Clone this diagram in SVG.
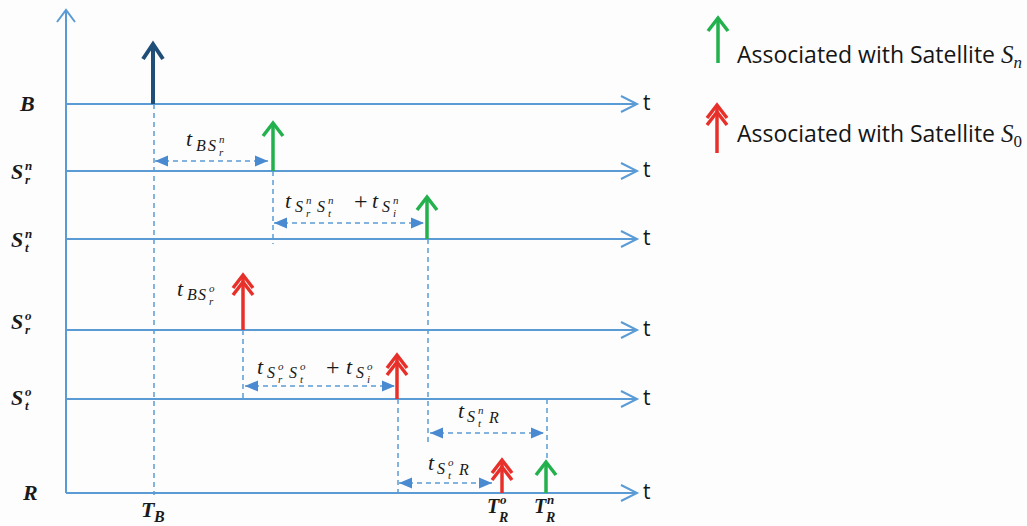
<svg xmlns="http://www.w3.org/2000/svg" width="1027" height="526" viewBox="0 0 1027 526">
<style>
.ax{stroke:#5b9bd5;stroke-width:2;fill:none}
.hl{stroke:#5b9bd5;stroke-width:2;fill:none;marker-end:url(#open)}
.dv{stroke:#5b9bd5;stroke-width:1.5;stroke-dasharray:5 4;fill:none}
.da{stroke:#5b9bd5;stroke-width:1.5;stroke-dasharray:5 4;fill:none;marker-start:url(#tri);marker-end:url(#tri)}
.g{stroke:#22b14c;stroke-width:3.5;fill:none;marker-end:url(#gh)}
.r{stroke:#e8302a;stroke-width:3.5;fill:none;marker-end:url(#rh)}
.b{stroke:#1f4e79;stroke-width:4;fill:none;marker-end:url(#bh)}
.m{font-family:"Liberation Serif",serif;font-style:italic;fill:#1a1a1a}
.lb{font-family:"Liberation Serif",serif;font-style:italic;font-weight:bold;fill:#1a1a1a}
.pl{font-family:"Liberation Serif",serif;font-style:normal;fill:#1a1a1a}
.tt{font-family:"Open Sans",sans-serif;font-size:23px;fill:#151515}
.tl{font-family:"Open Sans",sans-serif;font-size:21px;fill:#151515}
.big{font-size:22px}.mid{font-size:16px}.sm{font-size:11px}.lsm{font-size:13px}
</style>
<defs>
<marker id="open" markerUnits="userSpaceOnUse" orient="auto" refX="0" refY="0" markerWidth="20" markerHeight="20" overflow="visible"><path d="M-16,-8 L0,0 L-16,8" fill="none" stroke="#5b9bd5" stroke-width="2"/></marker>
<marker id="tri" markerUnits="userSpaceOnUse" orient="auto-start-reverse" refX="0" refY="0" markerWidth="20" markerHeight="20" overflow="visible"><path d="M-13,-5.5 L0,0 L-13,5.5 z" fill="#4a8ad0"/></marker>
<marker id="gh" markerUnits="userSpaceOnUse" orient="auto" refX="0" refY="0" markerWidth="30" markerHeight="30" overflow="visible"><path d="M-13,-10 L0,0 L-13,10" fill="none" stroke="#22b14c" stroke-width="3.5"/></marker>
<marker id="rh" markerUnits="userSpaceOnUse" orient="auto" refX="0" refY="0" markerWidth="30" markerHeight="30" overflow="visible"><path d="M-13,-10 L0,0 L-13,10 M-20,-10 L-7,0 L-20,10" fill="none" stroke="#e8302a" stroke-width="3.5"/></marker>
<marker id="bh" markerUnits="userSpaceOnUse" orient="auto" refX="0" refY="0" markerWidth="30" markerHeight="30" overflow="visible"><path d="M-15,-10 L0,0 L-15,10" fill="none" stroke="#1f4e79" stroke-width="4"/></marker>
</defs>
<rect width="1027" height="526" fill="#fdfdfd"/>
<g id="connectors">
<path class="ax" d="M66,493 V10 M57,22 L66,10 L75,22"/>
<path class="hl" d="M66,104 H637"/>
<path class="hl" d="M66,171 H637"/>
<path class="hl" d="M66,239 H637"/>
<path class="hl" d="M66,330 H637"/>
<path class="hl" d="M66,399 H637"/>
<path class="hl" d="M66,493 H637"/>
<path class="dv" d="M154,104 V495"/>
<path class="dv" d="M273,171 V244"/>
<path class="dv" d="M428,239 V444"/>
<path class="dv" d="M243,330 V400"/>
<path class="dv" d="M398,399 V497"/>
<path class="dv" d="M547,399 V470"/>
<path class="da" d="M155,161 H268"/>
<path class="da" d="M274,223 H424"/>
<path class="da" d="M245,386 H395"/>
<path class="da" d="M430,433 H544"/>
<path class="da" d="M399,483 H492"/>
</g>
<g id="event-B"><path class="b" d="M153,104 V44"/></g>
<g id="event-Srn"><path class="g" d="M273,171 V123"/></g>
<g id="event-Stn"><path class="g" d="M427,239 V197"/></g>
<g id="event-Sro"><path class="r" d="M243,330 V275"/></g>
<g id="event-Sto"><path class="r" d="M397,399 V355"/></g>
<g id="event-R-o"><path class="r" d="M502,493 V460"/></g>
<g id="event-R-n"><path class="g" d="M546,493 V462"/></g>
<g id="legend">
<path class="g" d="M718,63 V18"/>
<text class="tt" x="737" y="63">Associated with Satellite <tspan class="m" font-size="25">S</tspan><tspan class="m" font-size="17" dy="5">n</tspan></text>
<path class="r" d="M717,153 V105"/>
<text class="tt" x="737" y="142">Associated with Satellite <tspan class="m" font-size="25">S</tspan><tspan class="pl" font-size="17" dy="5">0</tspan></text>
</g>
<g id="t-labels">
<text class="tl" x="643" y="110">t</text>
<text class="tl" x="643" y="177">t</text>
<text class="tl" x="643" y="245">t</text>
<text class="tl" x="643" y="336">t</text>
<text class="tl" x="643" y="405">t</text>
<text class="tl" x="643" y="499">t</text>
</g>
<g id="row-labels">
<text class="lb big" x="20" y="111">B</text>
<text class="lb big"><tspan x="11" y="179">S</tspan><tspan class="lsm" x="25" y="170">n</tspan><tspan class="lsm" x="25" y="184">r</tspan></text>
<text class="lb big"><tspan x="11" y="247">S</tspan><tspan class="lsm" x="25" y="238">n</tspan><tspan class="lsm" x="25" y="252">t</tspan></text>
<text class="lb big"><tspan x="11" y="329">S</tspan><tspan class="lsm" x="25" y="320">o</tspan><tspan class="lsm" x="25" y="334">r</tspan></text>
<text class="lb big"><tspan x="11" y="405">S</tspan><tspan class="lsm" x="25" y="396">o</tspan><tspan class="lsm" x="25" y="410">t</tspan></text>
<text class="lb big" x="23" y="500">R</text>
<text class="lb big"><tspan x="141" y="517">T</tspan><tspan class="mid" x="154" y="522">B</tspan></text>
<text class="lb" font-size="20"><tspan x="487" y="513">T</tspan><tspan class="lsm" x="500" y="504">o</tspan><tspan font-size="14" x="499" y="522">R</tspan></text>
<text class="lb" font-size="20"><tspan x="534" y="513">T</tspan><tspan class="lsm" x="547" y="504">n</tspan><tspan font-size="14" x="546" y="522">R</tspan></text>
</g>
<g id="delay-labels">
<text class="m big"><tspan x="186" y="146">t</tspan><tspan class="mid" x="196" y="151">B</tspan><tspan class="mid" x="208" y="151">S</tspan><tspan class="sm" x="219" y="143">n</tspan><tspan class="sm" x="219" y="156">r</tspan></text>
<text class="m big"><tspan x="177" y="296">t</tspan><tspan class="mid" x="187" y="300">B</tspan><tspan class="mid" x="198" y="300">S</tspan><tspan class="sm" x="209" y="292">o</tspan><tspan class="sm" x="209" y="305">r</tspan></text>
<text class="m big"><tspan x="285" y="208">t</tspan><tspan class="mid" x="295" y="212">S</tspan><tspan class="sm" x="306" y="204">n</tspan><tspan class="sm" x="306" y="217">r</tspan><tspan class="mid" x="317" y="212">S</tspan><tspan class="sm" x="328" y="204">n</tspan><tspan class="sm" x="328" y="217">t</tspan><tspan class="pl" font-size="24" x="354" y="209">+</tspan><tspan x="372" y="208">t</tspan><tspan class="mid" x="382" y="212">S</tspan><tspan class="sm" x="393" y="204">n</tspan><tspan class="sm" x="393" y="217">i</tspan></text>
<text class="m big"><tspan x="257" y="374">t</tspan><tspan class="mid" x="267" y="378">S</tspan><tspan class="sm" x="278" y="370">o</tspan><tspan class="sm" x="278" y="383">r</tspan><tspan class="mid" x="289" y="378">S</tspan><tspan class="sm" x="300" y="370">o</tspan><tspan class="sm" x="300" y="383">t</tspan><tspan class="pl" font-size="24" x="326" y="375">+</tspan><tspan x="346" y="374">t</tspan><tspan class="mid" x="356" y="378">S</tspan><tspan class="sm" x="367" y="370">o</tspan><tspan class="sm" x="367" y="383">i</tspan></text>
<text class="m big"><tspan x="458" y="418">t</tspan><tspan class="mid" x="467" y="422">S</tspan><tspan class="sm" x="478" y="414">n</tspan><tspan class="sm" x="478" y="427">t</tspan><tspan class="mid" x="489" y="423">R</tspan></text>
<text class="m big"><tspan x="428" y="470">t</tspan><tspan class="mid" x="437" y="474">S</tspan><tspan class="sm" x="448" y="466">o</tspan><tspan class="sm" x="448" y="479">t</tspan><tspan class="mid" x="459" y="475">R</tspan></text>
</g>
</svg>
